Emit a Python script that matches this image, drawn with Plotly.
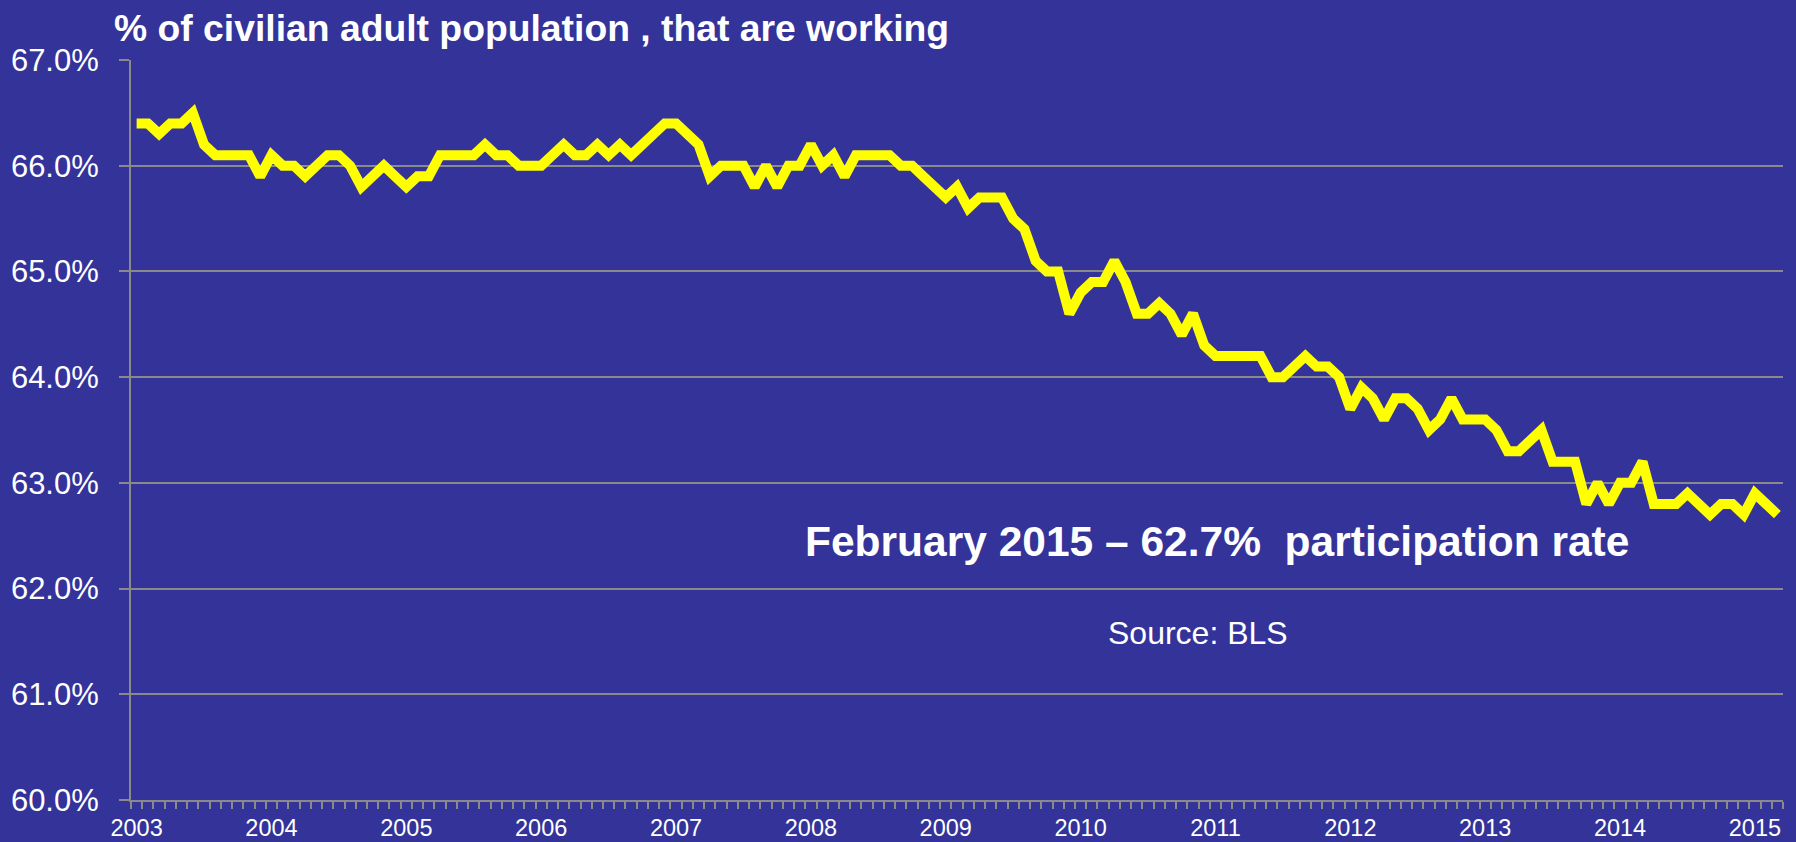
import plotly.graph_objects as go

years = ["2003", "2004", "2005", "2006", "2007", "2008", "2009",
         "2010", "2011", "2012", "2013", "2014", "2015"]

rate_2003 = [66.4, 66.4, 66.3, 66.4, 66.4, 66.5, 66.2, 66.1, 66.1, 66.1, 66.1, 65.9]
rate_2004 = [66.1, 66.0, 66.0, 65.9, 66.0, 66.1, 66.1, 66.0, 65.8, 65.9, 66.0, 65.9]
rate_2005 = [65.8, 65.9, 65.9, 66.1, 66.1, 66.1, 66.1, 66.2, 66.1, 66.1, 66.0, 66.0]
rate_2006 = [66.0, 66.1, 66.2, 66.1, 66.1, 66.2, 66.1, 66.2, 66.1, 66.2, 66.3, 66.4]
rate_2007 = [66.4, 66.3, 66.2, 65.9, 66.0, 66.0, 66.0, 65.8, 66.0, 65.8, 66.0, 66.0]
rate_2008 = [66.2, 66.0, 66.1, 65.9, 66.1, 66.1, 66.1, 66.1, 66.0, 66.0, 65.9, 65.8]
rate_2009 = [65.7, 65.8, 65.6, 65.7, 65.7, 65.7, 65.5, 65.4, 65.1, 65.0, 65.0, 64.6]
rate_2010 = [64.8, 64.9, 64.9, 65.1, 64.9, 64.6, 64.6, 64.7, 64.6, 64.4, 64.6, 64.3]
rate_2011 = [64.2, 64.2, 64.2, 64.2, 64.2, 64.0, 64.0, 64.1, 64.2, 64.1, 64.1, 64.0]
rate_2012 = [63.7, 63.9, 63.8, 63.6, 63.8, 63.8, 63.7, 63.5, 63.6, 63.8, 63.6, 63.6]
rate_2013 = [63.6, 63.5, 63.3, 63.3, 63.4, 63.5, 63.2, 63.2, 63.2, 62.8, 63.0, 62.8]
rate_2014 = [63.0, 63.0, 63.2, 62.8, 62.8, 62.8, 62.9, 62.8, 62.7, 62.8, 62.8, 62.7]
rate_2015 = [62.9, 62.8, 62.7]

y_ticks = [60, 61, 62, 63, 64, 65, 66, 67]
y_tick_labels = ["60.0%", "61.0%", "62.0%", "63.0%", "64.0%", "65.0%", "66.0%", "67.0%"]

title_text = "% of civilian adult population , that are working"
note_text = "February 2015 \u2013 62.7%\u00a0 participation rate"
source_text = "Source: BLS"

rates = (rate_2003 + rate_2004 + rate_2005 + rate_2006 + rate_2007 + rate_2008 +
         rate_2009 + rate_2010 + rate_2011 + rate_2012 + rate_2013 + rate_2014 + rate_2015)
month_idx = list(range(len(rates)))
year_pos = [12 * i for i in range(len(years))]

BG = "#333399"
GRID = "#8a8a8a"
FONT = "Liberation Sans, Arial, sans-serif"

fig = go.Figure()
fig.add_trace(go.Scatter(
    x=month_idx, y=rates, mode="lines",
    line=dict(color="#ffff00", width=10),
    hoverinfo="skip", showlegend=False,
))

fig.update_layout(
    width=1796, height=842,
    paper_bgcolor=BG, plot_bgcolor=BG,
    margin=dict(l=131, r=13, t=60, b=42, autoexpand=False),
    font=dict(family=FONT, color="white"),
    title=dict(
        text=title_text, x=114 / 1796, xanchor="left",
        y=1 - 28 / 842, yanchor="middle",
        font=dict(family=FONT, size=37.3, color="white", weight="bold"),
    ),
    xaxis=dict(
        range=[-0.5, len(rates) - 0.5],
        tickmode="array", tickvals=year_pos, ticktext=years,
        ticks="outside", ticklen=0, tickcolor=GRID,
        tickfont=dict(family=FONT, size=23.5, color="white"),
        ticklabelstandoff=6,
        showgrid=False, zeroline=False,
        showline=True, linecolor=GRID, linewidth=2,
        minor=dict(ticks="outside", ticklen=7, tickcolor=GRID, tickwidth=2,
                   tick0=-0.5, dtick=1, showgrid=False),
        automargin=False,
        fixedrange=True,
    ),
    yaxis=dict(
        range=[60, 67],
        tickmode="array", tickvals=y_ticks, ticktext=y_tick_labels,
        ticks="outside", ticklen=10, tickcolor=GRID, tickwidth=2,
        tickfont=dict(family=FONT, size=31, color="white"),
        ticklabelstandoff=14,
        showgrid=True, gridcolor=GRID, gridwidth=2,
        zeroline=False,
        showline=True, linecolor=GRID, linewidth=2,
        automargin=False,
        fixedrange=True,
    ),
    annotations=[
        dict(text=note_text, xref="paper", yref="paper",
             x=(1221 - 131) / 1658, y=(800 - 541) / 740,
             xanchor="center", yanchor="middle", showarrow=False,
             font=dict(family=FONT, size=42.5, color="white", weight="bold")),
        dict(text=source_text, xref="paper", yref="paper",
             x=(1202 - 131) / 1658, y=(800 - 633) / 740,
             xanchor="center", yanchor="middle", showarrow=False,
             font=dict(family=FONT, size=32, color="white")),
    ],
)

fig.write_html(
    "out.html",
    config={"displayModeBar": False},
    post_script="document.body.style.margin='0';document.body.style.background='#333399';",
)
